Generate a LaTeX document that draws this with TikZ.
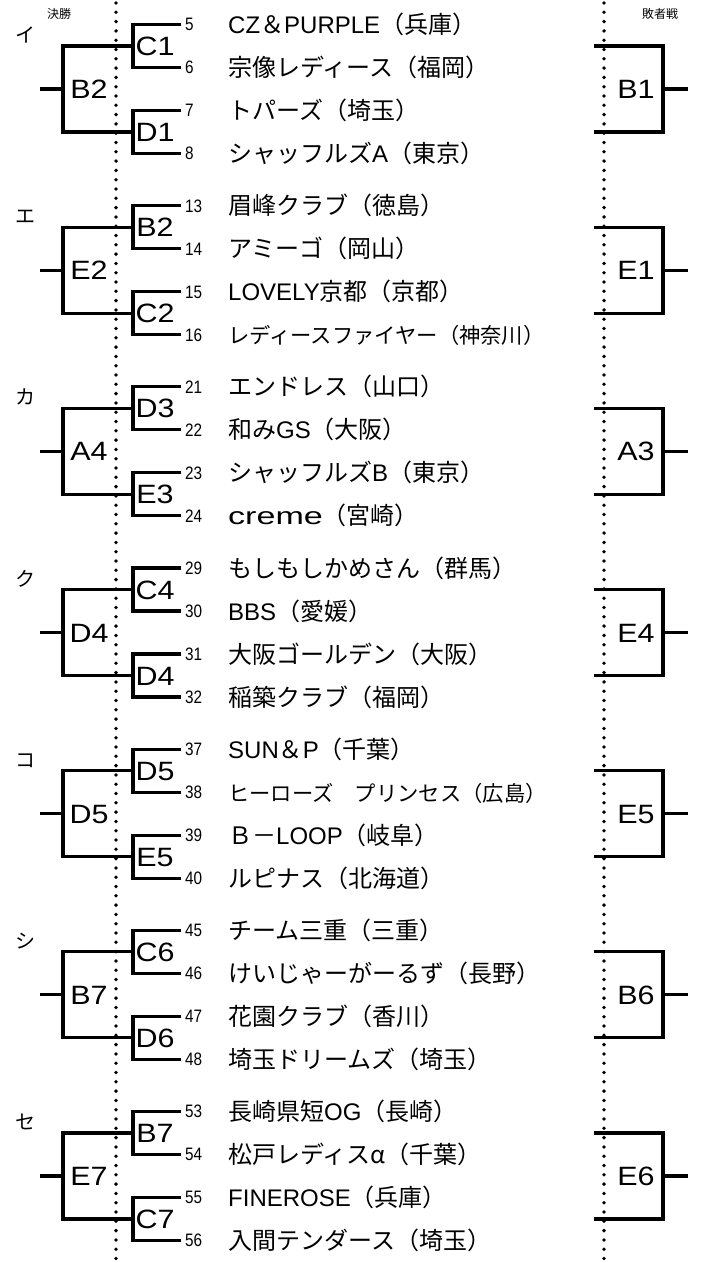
\documentclass[tikz,border=0pt]{standalone}
\usepackage{fontspec}
\newfontfamily\jpfont{Noto Sans CJK JP}
\newfontfamily\latfont{Liberation Sans}
\newfontfamily\widefont[FakeStretch=1.42]{Liberation Sans}
\newfontfamily\labfont[FakeStretch=1.15]{Liberation Sans}
\newfontfamily\numfont[FakeStretch=0.85]{Liberation Sans}
\newcommand\smallrow{\fontsize{21.3}{21.3}\selectfont}
\newcommand\lt[1]{{\latfont #1}}
\newcommand\wdlat[1]{{\widefont #1}}
\tikzset{
 br/.style={line width=3.2pt},
 dots/.style={line width=3.8pt, line cap=round, dash pattern=on 0pt off 9.3pt},
 team/.style={anchor=west, inner sep=0pt, text height=21pt, text depth=3pt, font=\jpfont\fontsize{24}{24}\selectfont},
 numl/.style={anchor=west, inner sep=0pt, text height=12.9pt, text depth=0pt, font=\numfont\fontsize{18}{18}\selectfont},
 biglab/.style={inner sep=0pt, text height=19pt, text depth=0pt, font=\labfont\fontsize{26.5}{26.5}\selectfont},
 kana/.style={inner sep=0pt, text height=17.6pt, text depth=2.4pt, font=\jpfont\fontsize{20}{20}\selectfont},
 head/.style={inner sep=0pt, font=\jpfont\fontsize{12}{12}\selectfont},
}
\begin{document}
\begin{tikzpicture}[x=1pt,y=-1pt]
\useasboundingbox (0,0) rectangle (701,1263);
\coordinate (dlt) at (116,3); \coordinate (dlb) at (116,1263);
\coordinate (drt) at (604,3); \coordinate (drb) at (604,1263);
\draw[dots] (dlt) -- (dlb);
\draw[dots] (drt) -- (drb);
\node[head] (hw) at (59,14) {決勝};
\node[head] (hl) at (660,14) {敗者戦};
\foreach \I/\Ka/\Gb/\Sa/\Sb/\Rb/\Na/\Ta/\Nb/\Tb/\Nc/\Tc/\Nd/\Td in {
 0/イ/B2/C1/D1/B1/5/{\lt{CZ}＆\lt{PURPLE}（兵庫）}/6/{宗像レディース（福岡）}/7/{トパーズ（埼玉）}/8/{シャッフルズ\lt{A}（東京）},
 1/エ/E2/B2/C2/E1/13/{眉峰クラブ（徳島）}/14/{アミーゴ（岡山）}/15/{\lt{LOVELY}京都（京都）}/16/{\smallrow レディースファイヤー（神奈川）},
 2/カ/A4/D3/E3/A3/21/{エンドレス（山口）}/22/{和み\lt{GS}（大阪）}/23/{シャッフルズ\lt{B}（東京）}/24/{\wdlat{creme}（宮崎）},
 3/ク/D4/C4/D4/E4/29/{もしもしかめさん（群馬）}/30/{\lt{BBS}（愛媛）}/31/{大阪ゴールデン（大阪）}/32/{稲築クラブ（福岡）},
 4/コ/D5/D5/E5/E5/37/{\lt{SUN}＆\lt{P}（千葉）}/38/{\smallrow ヒーローズ　プリンセス（広島）}/39/{Ｂ－\lt{LOOP}（岐阜）}/40/{ルピナス（北海道）},
 5/シ/B7/C6/D6/B6/45/{チーム三重（三重）}/46/{けいじゃーがーるず（長野）}/47/{花園クラブ（香川）}/48/{埼玉ドリームズ（埼玉）},
 6/セ/E7/B7/C7/E6/53/{長崎県短\lt{OG}（長崎）}/54/{松戸レディスα（千葉）}/55/{\lt{FINEROSE}（兵庫）}/56/{入間テンダース（埼玉）}
}{
 \pgfmathsetmacro\cy{89+\I*181.17}
 % left bracket
 \coordinate (L\I) at (40,\cy);
 \coordinate (J\I) at (63,\cy);
 \coordinate (T\I) at (63,{\cy-43});
 \coordinate (B\I) at (63,{\cy+43});
 \coordinate (TA\I) at (133,{\cy-43});
 \coordinate (BA\I) at (133,{\cy+43});
 \draw[br] (L\I) -- (J\I);
 \draw[br] (TA\I) -- (T\I) -- (B\I) -- (BA\I);
 \coordinate (U1\I) at (133,{\cy-64.5});
 \coordinate (U2\I) at (133,{\cy-21.5});
 \coordinate (U3\I) at (133,{\cy+21.5});
 \coordinate (U4\I) at (133,{\cy+64.5});
 \node[numl] (n1-\I) at (185,{\cy-64.5}) {\Na};
 \node[numl] (n2-\I) at (185,{\cy-21.5}) {\Nb};
 \node[numl] (n3-\I) at (185,{\cy+21.5}) {\Nc};
 \node[numl] (n4-\I) at (185,{\cy+64.5}) {\Nd};
 \draw[br] ([xshift=-4pt]n1-\I.west) -- (U1\I) -- (U2\I) -- ([xshift=-4pt]n2-\I.west);
 \draw[br] ([xshift=-4pt]n3-\I.west) -- (U3\I) -- (U4\I) -- ([xshift=-4pt]n4-\I.west);
 \node[team] (t1-\I) at (228,{\cy-64.5}) {\Ta};
 \node[team] (t2-\I) at (228,{\cy-21.5}) {\Tb};
 \node[team] (t3-\I) at (228,{\cy+21.5}) {\Tc};
 \node[team] (t4-\I) at (228,{\cy+64.5}) {\Td};
 % labels
 \node[kana] (k\I) at (25,{\cy-54}) {\Ka};
 \node[biglab] (g\I) at (89,\cy) {\Gb};
 \node[biglab] (sa\I) at (155,{\cy-43}) {\Sa};
 \node[biglab] (sb\I) at (155,{\cy+43}) {\Sb};
 % right box
 \coordinate (RT\I) at (594,{\cy-43});
 \coordinate (RTC\I) at (663,{\cy-43});
 \coordinate (RBC\I) at (663,{\cy+43});
 \coordinate (RB\I) at (594,{\cy+43});
 \coordinate (RJ\I) at (663,\cy);
 \coordinate (RS\I) at (688,\cy);
 \draw[br] (RT\I) -- (RTC\I) -- (RBC\I) -- (RB\I);
 \draw[br] (RJ\I) -- (RS\I);
 \node[biglab] (r\I) at (636,\cy) {\Rb};
}
\end{tikzpicture}
\end{document}
